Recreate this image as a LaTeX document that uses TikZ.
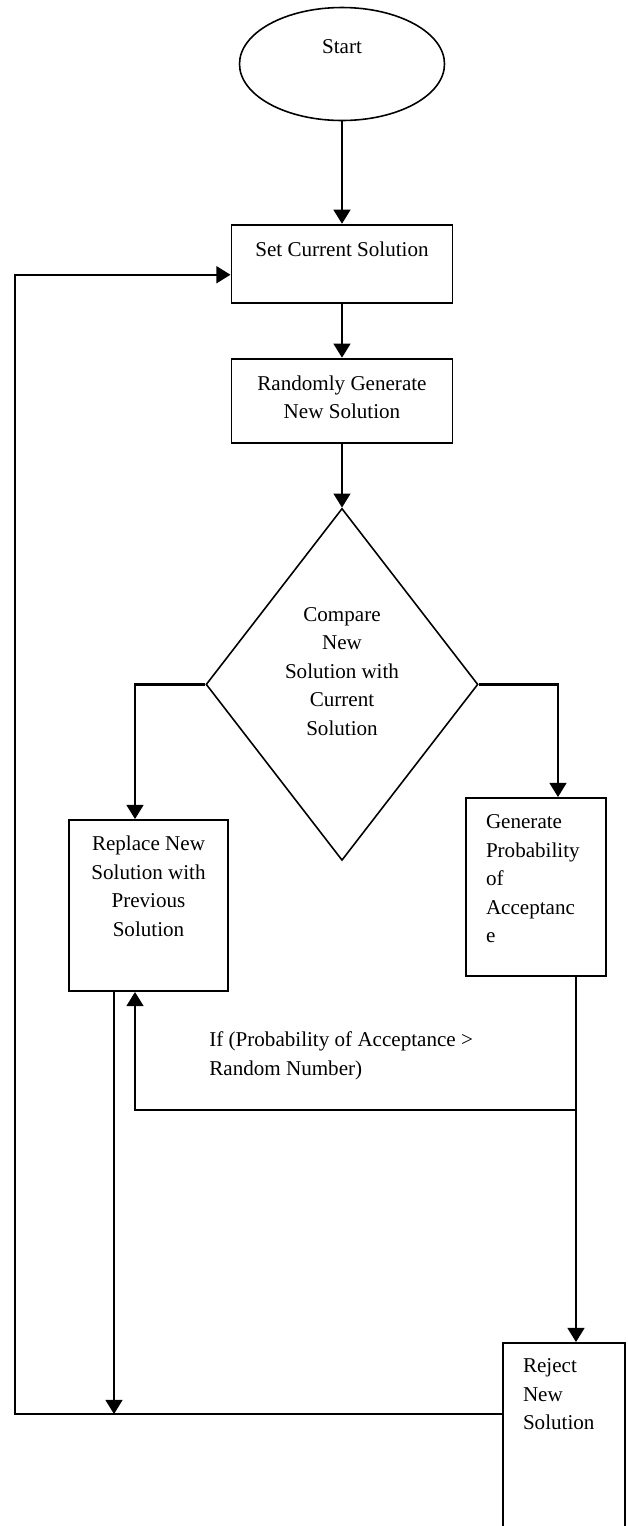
\documentclass[tikz,border=0pt]{standalone}
\usepackage{fontspec}
\setmainfont{Liberation Serif}
\usetikzlibrary{arrows.meta,shapes.geometric,positioning}

\newlength\px
\setlength\px{0.02cm}
\newcommand{\boxtxt}[5]{\parbox[c][#2\px][t]{#1\px}{#3\vspace*{#4\px}#5}}

\begin{document}
\begin{tikzpicture}[x=0.02cm,y=0.02cm,node distance=1cm,
                    every node/.style={font=\fontsize{12}{16.2}\selectfont},
                    main node/.style={rectangle,draw,line width=1.1pt,inner sep=0pt},
                    start node/.style={ellipse,draw,line width=0.9pt,inner sep=0pt,minimum width=205\px,minimum height=113\px},
                    test node/.style={diamond,draw,line width=0.9pt,aspect=0.77,inner sep=0pt,minimum width=272\px,minimum height=352\px},
                    arr/.style={-{Triangle[length=8pt,width=9.5pt]},line width=1.3pt}]

  \useasboundingbox (0,0) rectangle (627,-1526);

  \node[start node] (1) at (342,-64) {\boxtxt{60}{60}{\centering}{6}{Start}};
  \node[main node] (2) [below=2.05cm of 1] {\boxtxt{221}{78}{\centering}{17}{Set Current Solution}};
  \node[main node] (3) [below=1.08cm of 2] {\boxtxt{221}{84}{\centering}{17}{Randomly Generate\\New Solution}};
  \node[test node] (4) [below=1.28cm of 3] {\boxtxt{114}{160}{\centering}{3}{Compare\\New\\Solution with\\Current\\Solution}};
  \node[main node] (5) at (148.5,-905.5) {\boxtxt{159}{171}{\centering}{16}{Replace New\\Solution with\\Previous\\Solution}};
  \node[main node] (6) at (536,-887) {\boxtxt{140}{178}{\raggedright\leftskip=20\px}{17}{Generate\\Probability\\of\\Acceptanc\\e}};
  \node[main node] (7) at (564,-1444) {\boxtxt{122}{202}{\raggedright\leftskip=20\px}{16}{Reject\\New\\Solution}};
  \node[anchor=west,align=left,inner sep=0pt] (8) at (209,-1056) {If (Probability of Acceptance >\\Random Number)};

  \coordinate (9) at ([yshift=-72\px]7.north west);

  \path[arr]
    (1) edge (2)
    (2) edge (3)
    (3) edge (4);

  \draw[arr] (4.west) -| ([xshift=-13.5\px]5.north);
  \draw[arr] (4.east) -| ([xshift=22\px]6.north);
  \draw[arr] ([xshift=40\px]6.south) -- ([xshift=40\px]6.south |- 7.north);
  \draw[arr] ([xshift=40\px,yshift=-133\px]6.south) -| ([xshift=-13.5\px]5.south);
  \draw[arr] ([xshift=-34.5\px]5.south) -- ([xshift=-34.5\px]5.south |- 9);
  \draw[arr] (9) -- ++(-487,0) |- ([yshift=-11\px]2.west);

\end{tikzpicture}
\end{document}
